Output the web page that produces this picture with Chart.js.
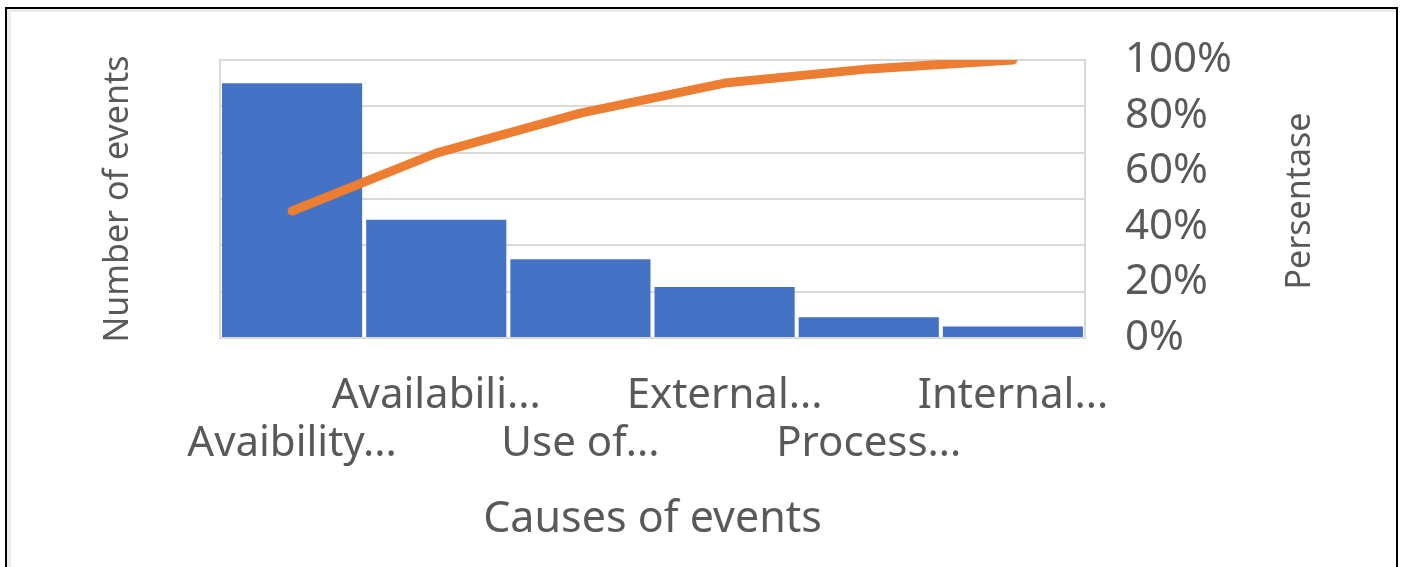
<!DOCTYPE html>
<html>
<head>
<meta charset="utf-8">
<script src="https://cdn.jsdelivr.net/npm/chart.js@4.4.1/dist/chart.umd.min.js"></script>
<style>
  html, body { margin: 0; padding: 0; background: #ffffff; }
  #wrap { position: relative; width: 1403px; height: 567px; overflow: hidden; background: #ffffff; }
  #chart { position: absolute; left: 0; top: 0; }
  #frame {
    position: absolute; left: 5px; top: 7px; width: 1389px; height: 600px;
    border: 2px solid #000000;
    box-shadow: inset 4px 3px 0 #ececec;
    pointer-events: none;
  }
</style>
</head>
<body>
<div id="wrap">
  <canvas id="chart" width="1403" height="567"></canvas>
  <div id="frame"></div>
</div>
<script>
// Causes of events, sorted by frequency (Pareto order)
const causes = ['Avaibility...', 'Availabili...', 'Use of...', 'External...', 'Process...', 'Internal...'];
// Number of events per cause
const eventCounts = [110, 51, 34, 22, 9, 5];
// Cumulative share of events, in percent
const cumulativePct = [45.7, 66.5, 80.9, 91.7, 96.8, 100];
// Right-axis tick values
const pctTicks = [0, 20, 40, 60, 80, 100];

const textColor = '#595959';
const gridColor = '#d9d9d9';
const fontFamily = "'Noto Sans', 'Open Sans', sans-serif";

// Right axis title reads bottom-to-top, drawn here
const rightTitle = {
  id: 'rightTitle',
  afterDraw(chart) {
    const ctx = chart.ctx;
    const area = chart.chartArea;
    ctx.save();
    ctx.translate(1300, (area.top + area.bottom) / 2 + 2);
    ctx.rotate(-Math.PI / 2);
    ctx.font = '34px ' + fontFamily;
    ctx.fillStyle = textColor;
    ctx.textAlign = 'center';
    ctx.textBaseline = 'middle';
    ctx.fillText('Persentase', 0, 0);
    ctx.restore();
  }
};

new Chart(document.getElementById('chart'), {
  type: 'bar',
  data: {
    labels: causes,
    datasets: [
      {
        type: 'line',
        data: cumulativePct,
        yAxisID: 'y1',
        borderColor: '#ED7D31',
        borderWidth: 9,
        borderCapStyle: 'round',
        borderJoinStyle: 'round',
        pointRadius: 0,
        tension: 0,
        order: 0
      },
      {
        type: 'bar',
        data: eventCounts,
        yAxisID: 'y',
        backgroundColor: '#4472C4',
        barPercentage: 0.972,
        categoryPercentage: 1.0,
        order: 1
      }
    ]
  },
  options: {
    responsive: false,
    animation: false,
    devicePixelRatio: 1,
    layout: { padding: { top: 60, left: 0, right: 0, bottom: 0 } },
    plugins: { legend: { display: false }, tooltip: { enabled: false } },
    scales: {
      x: {
        grid: { display: false, drawTicks: false },
        border: { display: false },
        ticks: {
          autoSkip: false,
          maxRotation: 0,
          minRotation: 0,
          padding: 34,
          color: textColor,
          font: { family: fontFamily, size: 42, lineHeight: 1.14 },
          callback: function (value, index) {
            const label = causes[index];
            return index % 2 === 0 ? ['', label] : [label];
          }
        },
        title: {
          display: true,
          text: 'Causes of events',
          color: textColor,
          font: { family: fontFamily, size: 43, lineHeight: 1.2 },
          padding: { top: 0, bottom: 21 }
        },
        afterFit: function (scale) { scale.height = 229; }
      },
      y: {
        position: 'left',
        min: 0,
        max: 120,
        ticks: { display: false, stepSize: 20 },
        grid: { color: gridColor, lineWidth: 2, drawTicks: false },
        border: { display: true, color: gridColor, width: 2 },
        title: {
          display: true,
          text: 'Number of events',
          color: textColor,
          font: { family: fontFamily, size: 34, lineHeight: 1.2 },
          padding: { top: 98, bottom: 0 }
        },
        afterFit: function (scale) { scale.width = 220; }
      },
      y1: {
        position: 'right',
        min: 0,
        max: 100,
        afterBuildTicks: function (scale) { scale.ticks = pctTicks.map(v => ({ value: v })); },
        ticks: {
          padding: 34.8,
          color: textColor,
          font: { family: fontFamily, size: 42 },
          callback: function (v) { return v + '%'; }
        },
        // tick marks hidden; their length only spaces the labels from the plot
        grid: { display: false, drawTicks: true, tickLength: 5.2 },
        border: { display: true, color: gridColor, width: 2 },
        afterFit: function (scale) { scale.width = 318; }
      }
    }
  },
  plugins: [rightTitle]
});
</script>
</body>
</html>
